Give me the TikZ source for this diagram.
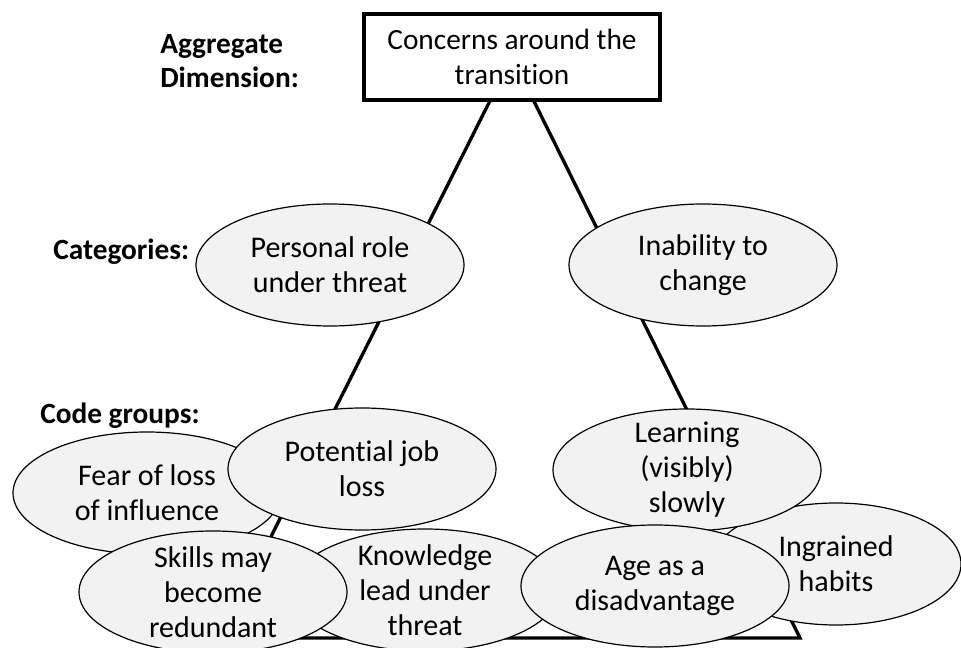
\documentclass[tikz,border=0pt]{standalone}
\usepackage{fontspec}
\setmainfont{Carlito}[Ligatures=NoCommon]
\usetikzlibrary{shapes.geometric, backgrounds}
\definecolor{ovalgray}{HTML}{F2F2F2}
\tikzstyle{dimension} = [rectangle, minimum width=222pt, minimum height=64.5pt, align=center, draw=black, line width=3pt, fill=white, font=\fontsize{22}{26.25}\selectfont]
\tikzstyle{oval} = [ellipse, minimum width=201pt, minimum height=91.5pt, inner ysep=-20pt, align=center, draw=black, line width=0.9pt, fill=ovalgray, font=\fontsize{22.5}{26.25}\selectfont]
\tikzstyle{heading} = [inner sep=0pt, anchor=west, align=left, font=\bfseries\fontsize{22}{25.5}\selectfont]
\tikzstyle{link} = [line width=2.5pt]

\begin{document}
\begin{tikzpicture}[x=0.75pt, y=-0.75pt]
\useasboundingbox (0,0) rectangle (961,648);

% labels on the left
\node (agglabel) [heading] at (160,61.5) {Aggregate\\Dimension:};
\node (catlabel) [heading] at (53,252) {Categories:};
\node (codelabel) [heading] at (40,416) {Code groups:};

\node (agg) [dimension] at (512,57) {Concerns around the\\transition};

\node (role) [oval] at (330,265) {Personal role\\under threat};
\node (change) [oval] at (703,265) {Inability to\\change};

\node (influence) [oval] at (147,493) {Fear of loss\\of influence};
\node (job) [oval] at (362,469) {Potential job\\loss};
\node (knowledge) [oval] at (425,590) {Knowledge\\lead under\\threat};
\node (skills) [oval] at (213,592) {Skills may\\become\\redundant};
\node (habits) [oval, minimum width=187.5pt] at (836,564) {Ingrained\\habits};
\node (learning) [oval] at (687,470) {Learning\\(visibly)\\slowly};
\node (age) [oval] at (655,586) {Age as a\\disadvantage};

\coordinate (bl) at (220,638);
\coordinate (br) at (800,638);

\begin{scope}[on background layer]
\draw [link] (agg.center) -- (bl) -- (br) -- cycle;
\end{scope}

\end{tikzpicture}
\end{document}
